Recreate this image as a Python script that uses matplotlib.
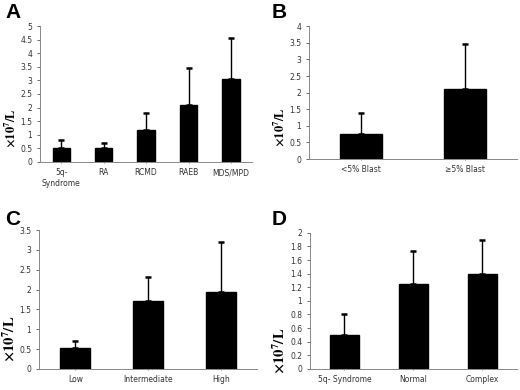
import matplotlib

matplotlib.use("Agg")
import matplotlib.pyplot as plt

plt.rcParams["mathtext.fontset"] = "stix"

# panel A: diagnosis
a_labels = ["5q-\nSyndrome", "RA", "RCMD", "RAEB", "MDS/MPD"]
a_means = [0.5, 0.5, 1.17, 2.1, 3.05]
a_err = [0.3, 0.18, 0.62, 1.35, 1.5]
a_ticks = [0, 0.5, 1, 1.5, 2, 2.5, 3, 3.5, 4, 4.5, 5]

# panel B: blast
b_labels = ["<5% Blast", "≥5% Blast"]
b_means = [0.75, 2.1]
b_err = [0.65, 1.35]
b_ticks = [0, 0.5, 1, 1.5, 2, 2.5, 3, 3.5, 4]

# panel C: risk group
c_labels = ["Low", "Intermediate", "High"]
c_means = [0.52, 1.72, 1.95]
c_err = [0.18, 0.61, 1.25]
c_ticks = [0, 0.5, 1, 1.5, 2, 2.5, 3, 3.5]

# panel D: karyotype
d_labels = ["5q- Syndrome", "Normal", "Complex"]
d_means = [0.5, 1.25, 1.4]
d_err = [0.3, 0.49, 0.49]
d_ticks = [0, 0.2, 0.4, 0.6, 0.8, 1, 1.2, 1.4, 1.6, 1.8, 2]

# letter, axes rect, letter position, ylabel size, ylabel coords
panels = [
    ("A", [0.077, 0.585, 0.408, 0.348], (0.010, 0.993), 9.0, (-0.108, 0.25),
     a_labels, a_means, a_err, a_ticks),
    ("B", [0.594, 0.592, 0.400, 0.341], (0.523, 0.993), 9.0, (-0.106, 0.24),
     b_labels, b_means, b_err, b_ticks),
    ("C", [0.075, 0.054, 0.420, 0.356], (0.010, 0.462), 10.5, (-0.100, 0.22),
     c_labels, c_means, c_err, c_ticks),
    ("D", [0.596, 0.054, 0.398, 0.349], (0.523, 0.462), 10.5, (-0.110, 0.13),
     d_labels, d_means, d_err, d_ticks),
]

fig = plt.figure(figsize=(5.2, 3.9), dpi=100)
fig.patch.set_facecolor("white")

for letter, rect, letter_pos, label_size, label_xy, labels, means, errs, ticks in panels:
    ax = fig.add_axes(rect)
    x = list(range(len(labels)))
    ax.bar(x, means, width=0.41, color="black", edgecolor="black", zorder=2)
    ax.errorbar(
        x,
        means,
        yerr=[[0] * len(errs), errs],
        fmt="none",
        ecolor="black",
        elinewidth=1.0,
        capsize=2,
        capthick=1.8,
        zorder=1,
    )
    ax.set_xlim(-0.5, len(labels) - 0.5)
    ax.set_ylim(0, ticks[-1])
    ax.set_yticks(ticks)
    ax.set_yticklabels([f"{t:g}" for t in ticks])
    ax.set_xticks(x)
    ax.set_xticklabels(labels)
    ax.tick_params(axis="both", labelsize=5.5, colors="#333333", length=2, width=0.5)
    ax.tick_params(axis="x", length=1)
    for spine in ("top", "right"):
        ax.spines[spine].set_visible(False)
    for spine in ("left", "bottom"):
        ax.spines[spine].set_color("#888888")
        ax.spines[spine].set_linewidth(0.7)
    ax.set_ylabel(r"$\mathbf{\times 10^{7}/L}$", fontsize=label_size)
    ax.yaxis.set_label_coords(*label_xy)
    fig.text(
        letter_pos[0],
        letter_pos[1],
        letter,
        fontsize=15,
        fontweight="bold",
        family="Liberation Sans",
        ha="left",
        va="top",
    )

fig.savefig("out.png", dpi=100)
